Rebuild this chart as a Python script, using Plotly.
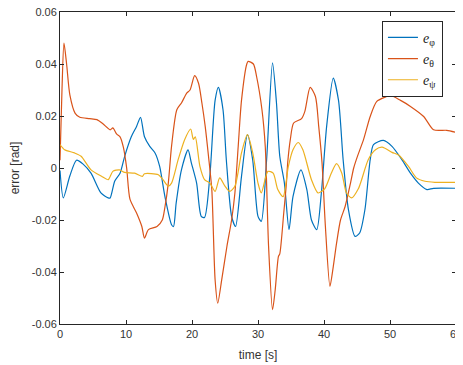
import plotly.graph_objects as go

# e_theta (orange)
t_theta = [0, 0.3, 0.6, 1.0, 1.5, 2.3, 3.0, 4.5, 5.6, 6.5, 7.6, 8.0, 8.6, 9.1, 9.6, 10.1,
           10.6, 11.6, 12.4, 12.8, 13.4, 14.7, 15.5, 15.9, 16.4, 16.9, 17.7, 18.4, 19.2,
           19.7, 20.4, 21.0, 21.5, 22.0, 22.5, 23.0, 23.5, 23.9, 24.5, 25.3, 26.0, 26.5,
           27.0, 27.5, 28.3, 28.5, 29.3, 29.8, 30.6, 31.1, 31.6, 32.2, 32.6, 33.1, 33.3,
           33.9, 34.3, 34.5, 34.9, 35.4, 36.6, 37.1, 37.9, 38.7, 39.2, 39.7, 40.2, 40.9,
           41.4, 41.9, 42.5, 43.2, 44.0, 44.5, 45.0, 46.0, 47.0, 48.0, 49.5, 50.0, 51.6,
           53.1, 55.1, 56.6, 58.6, 60]
e_theta = [0.003, 0.03, 0.048, 0.04, 0.028, 0.021, 0.0195, 0.019, 0.0186, 0.017, 0.0147,
           0.0154, 0.013, 0.012, 0.008, 0.0, -0.012, -0.0173, -0.0225, -0.027, -0.0237,
           -0.0225, -0.02, -0.015, -0.006, 0.0083, 0.0224, 0.025, 0.0288, 0.030, 0.0355,
           0.0325, 0.025, 0.016, 0.0045, -0.0083, -0.043, -0.052, -0.043, -0.030, -0.020,
           -0.0096, 0.0083, 0.026, 0.040, 0.041, 0.040, 0.035, 0.0224, 0.0083, -0.030,
           -0.0545, -0.047, -0.034, -0.033, -0.0173, -0.006, 0.002, 0.011, 0.0173, 0.019,
           0.0218, 0.031, 0.0275, 0.016, 0.002, -0.022, -0.0455, -0.038, -0.029, -0.020,
           -0.0148, -0.006, 0.0, 0.004, 0.011, 0.0198, 0.0256, 0.0275, 0.028, 0.026,
           0.0237, 0.0198, 0.0147, 0.0145, 0.0137]

# e_phi (blue)
t_phi = [0, 0.5, 1.5, 2.5, 3.5, 4.7, 6.2, 7.3, 7.6, 8.3, 9.1, 9.8, 10.8, 11.6, 12.2, 12.8,
         13.6, 14.4, 15.1, 15.9, 16.9, 17.2, 17.6, 18.4, 19.4, 19.9, 20.7, 21.4, 21.9,
         22.7, 23.5, 24.0, 24.7, 25.2, 26.0, 26.6, 27.5, 28.4, 29.2, 30.0, 30.5, 31.3,
         32.2, 32.8, 33.3, 34.0, 34.7, 35.3, 36.5, 37.4, 38.1, 38.9, 39.6, 40.4, 41.4,
         42.2, 42.9, 43.7, 44.7, 45.4, 46.2, 47.0, 47.5, 49.0, 50.3, 51.8, 53.1, 54.3,
         55.6, 56.6, 60]
e_phi = [-0.001, -0.0115, -0.003, 0.003, 0.0015, -0.002, -0.0096, -0.0115, -0.0115,
         -0.005, -0.002, 0.0045, 0.012, 0.016, 0.0195, 0.012, 0.0083, 0.0058, 0.0006,
         -0.011, -0.0218, -0.0225, -0.0135, -0.0007, 0.007, 0.002, -0.0058, -0.0186,
         -0.019, -0.0032, 0.026, 0.031, 0.0224, 0.0032, -0.0186, -0.0225, -0.0032,
         0.0128, 0.003, -0.0186, -0.0205, 0.003, 0.0404, 0.025, 0.0045, -0.0058, -0.0237,
         -0.011, -0.0007, -0.0083, -0.020, -0.0237, -0.0096, 0.016, 0.0346, 0.026, 0.0032,
         -0.016, -0.0263, -0.025, -0.016, 0.0032, 0.009, 0.0106, 0.0083, 0.0032, -0.002,
         -0.0058, -0.0083, -0.0078, -0.0078]

# e_psi (yellow)
t_psi = [0, 0.7, 2.2, 3.2, 4.7, 6.3, 7.3, 8.0, 9.0, 9.8, 11.3, 12.5, 12.8, 14.9, 15.6,
         16.4, 16.9, 17.9, 18.9, 19.8, 20.2, 20.5, 21.2, 21.9, 22.7, 23.5, 24.2, 25.0,
         25.7, 26.5, 27.5, 28.4, 29.2, 30.0, 30.5, 31.5, 32.3, 33.0, 33.8, 34.6, 35.3,
         36.1, 36.8, 38.1, 39.1, 40.1, 41.1, 41.9, 42.7, 43.4, 44.2, 45.2, 45.7, 46.7,
         47.8, 48.8, 50.3, 51.3, 52.8, 54.0, 55.3, 56.8, 60]
e_psi = [0.009, 0.007, 0.0058, 0.0045, -0.0007, -0.0032, -0.0045, -0.0013, -0.0007,
         -0.0017, -0.002, -0.0032, -0.0022, -0.0026, -0.0045, -0.007, -0.0058, 0.0032,
         0.011, 0.015, 0.011, 0.012, 0.0006, -0.0045, -0.0058, -0.009, -0.0038, -0.007,
         -0.009, -0.007, 0.0058, 0.0128, 0.0058, -0.0058, -0.0096, -0.0013, -0.002,
         -0.0083, -0.011, 0.0006, 0.007, 0.0098, 0.007, -0.0045, -0.0096, -0.008, -0.002,
         0.0017, -0.002, -0.0096, -0.0115, -0.008, -0.0045, 0.0032, 0.007, 0.008, 0.006,
         0.005, 0.0006, -0.0038, -0.0051, -0.0055, -0.0055]

x_ticks = [0, 10, 20, 30, 40, 50, 60]
y_ticks = [-0.06, -0.04, -0.02, 0, 0.02, 0.04, 0.06]
y_tick_labels = ["-0.06", "-0.04", "-0.02", "0", "0.02", "0.04", "0.06"]

fig = go.Figure()
series = [
    (t_phi, e_phi, "<i>e</i><sub>φ</sub>", "#0072BD"),
    (t_theta, e_theta, "<i>e</i><sub>θ</sub>", "#D95319"),
    (t_psi, e_psi, "<i>e</i><sub>ψ</sub>", "#EDB120"),
]
for tx, ty, name, col in series:
    fig.add_trace(go.Scatter(x=tx, y=ty, mode="lines", name=name,
                             line=dict(color=col, width=1.2, shape="spline",
                                       smoothing=0.7)))

axis_common = dict(showgrid=False, zeroline=False, showline=True, linecolor="#262626",
                   linewidth=1, mirror="ticks", ticks="inside", ticklen=4,
                   automargin=False, ticklabeloverflow="allow",
                   tickcolor="#262626", tickfont=dict(family="Liberation Sans", size=11,
                                                      color="#333333"))
fig.update_xaxes(range=[0, 60], tickvals=x_ticks, title=dict(text="time [s]", standoff=11,
                 font=dict(family="Liberation Sans", size=12, color="#333333")), **axis_common)
fig.update_yaxes(range=[-0.06, 0.06], tickvals=y_ticks, ticktext=y_tick_labels,
                 title=dict(text="error [rad]", standoff=15,
                            font=dict(family="Liberation Sans", size=12, color="#333333")),
                 **axis_common)

# The page body has an 8px default margin; size the figure to fit the window.
fig.update_layout(
    width=455, height=357,
    margin=dict(l=52, r=7, t=4, b=41),
    paper_bgcolor="white", plot_bgcolor="white",
    legend=dict(x=0.813, y=0.972, xanchor="left", yanchor="top",
                bordercolor="#262626", borderwidth=1, bgcolor="white",
                font=dict(family="Liberation Serif", size=14, color="#222222"),
                tracegroupgap=0, itemwidth=30),
)
fig.write_html("out.html")
